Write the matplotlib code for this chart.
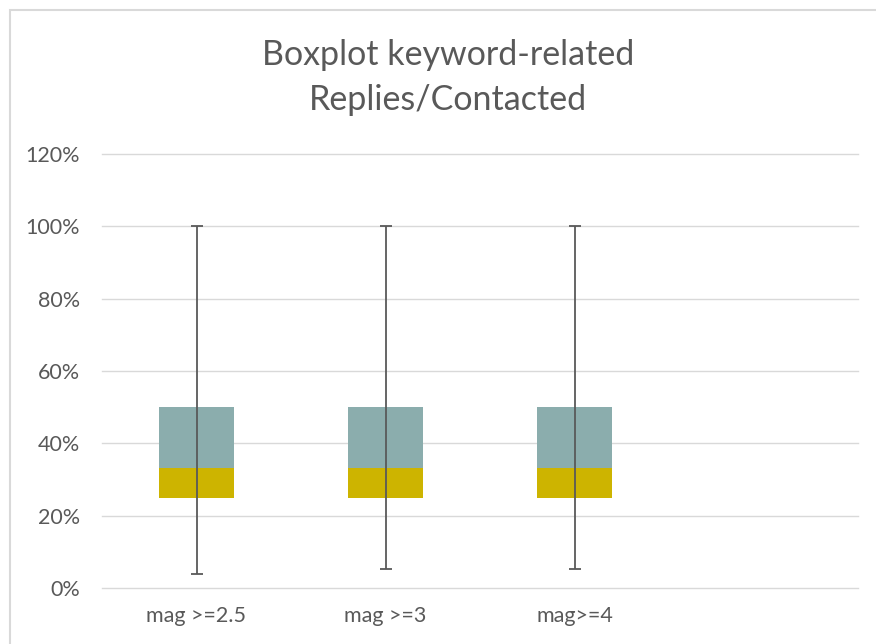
import numpy as np
import matplotlib
matplotlib.use("Agg")
import matplotlib.pyplot as plt
from matplotlib.patches import Rectangle
from matplotlib.ticker import PercentFormatter

# five-number summaries per magnitude threshold
categories = ["mag >=2.5", "mag >=3", "mag>=4", ""]
minimum = [0.040, 0.052, 0.052, 0.0]
q1 = [0.25, 0.25, 0.25, 0.0]
median = [0.333, 0.333, 0.333, 0.0]
q3 = [0.50, 0.50, 0.50, 0.0]
maximum = [1.0, 1.0, 1.0, 0.0]

TEXT = "#595959"
GRID = "#d9d9d9"

plt.rcParams["font.family"] = ["Lato", "DejaVu Sans"]

fig = plt.figure(figsize=(8.76, 6.44), dpi=100)
ax = fig.add_axes([102 / 876, 1 - 588 / 644, (858 - 102) / 876, (588 - 154) / 644])

x = np.arange(len(categories))
q1 = np.array(q1)
median = np.array(median)
q3 = np.array(q3)
lo = median - q1
hi = q3 - median

# stacked bars: hidden base, lower box half, upper box half
ax.bar(x, q1, width=0.4, color="none")
ax.bar(x, lo, bottom=q1, width=0.4, color="#cdb400", zorder=2)
ax.bar(x, hi, bottom=median, width=0.4, color="#8badad", zorder=2)

# whiskers from min to max
show = np.array(maximum) > 0
mn = np.array(minimum)[show]
mx = np.array(maximum)[show]
ax.errorbar(x[show], q3[show], yerr=[q3[show] - mn, mx - q3[show]], fmt="none",
            ecolor="#595959", elinewidth=1.3, capsize=4.5, capthick=1.3, zorder=3)

ax.set_xlim(-0.5, len(categories) - 0.5)
ax.set_ylim(0, 1.2)
ax.set_yticks(np.arange(0, 1.21, 0.2))
ax.yaxis.set_major_formatter(PercentFormatter(1.0, decimals=0))
ax.set_xticks(x)
ax.set_xticklabels(categories)
ax.grid(axis="y", color=GRID, linewidth=1.0)
for gl in ax.get_ygridlines():
    gl.set_clip_on(False)
ax.set_axisbelow(True)
for s in ax.spines.values():
    s.set_visible(False)
ax.tick_params(axis="both", length=0, labelsize=15.5, labelcolor=TEXT)
ax.tick_params(axis="y", pad=16)
ax.tick_params(axis="x", pad=13)

fig.text(448 / 876, 1 - 55 / 644, "Boxplot keyword-related", ha="center", va="center",
         fontsize=24.5, color=TEXT)
fig.text(448 / 876, 1 - 100 / 644, "Replies/Contacted", ha="center", va="center",
         fontsize=24.5, color=TEXT)

# chart area border, cropped at right and bottom
fig.patches.append(Rectangle((10 / 876, -0.1), 1.2, 1 - 10 / 644 + 0.1,
                             transform=fig.transFigure, fill=False,
                             edgecolor=GRID, linewidth=1.5))

fig.savefig("out.png", dpi=100)
